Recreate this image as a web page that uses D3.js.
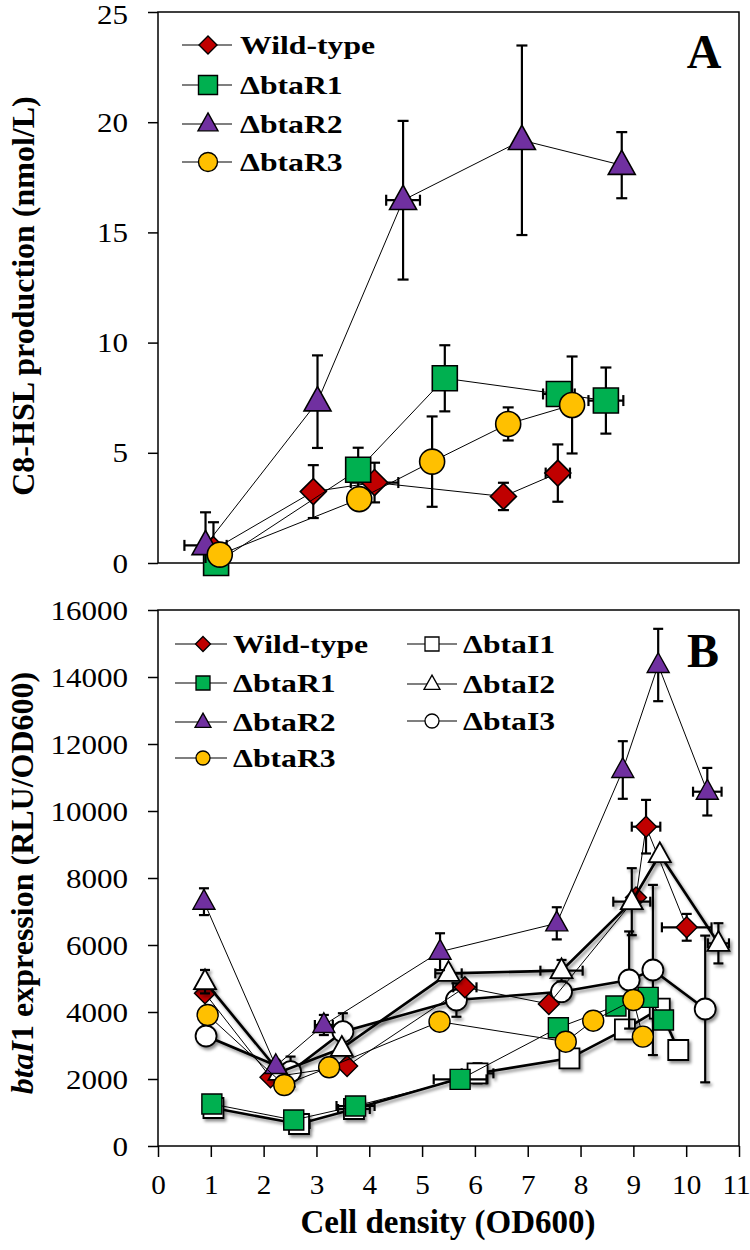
<!DOCTYPE html>
<html><head><meta charset="utf-8">
<script src="https://cdn.jsdelivr.net/npm/d3@7"></script>
<style>
html,body{margin:0;padding:0;background:#fff;}
svg{display:block;font-family:"Liberation Serif","Times New Roman",serif;}
</style></head>
<body>
<svg id="chart" width="750" height="1250"></svg>
<script>
// ---------- DATA ----------
// each point: [x (OD600), y, yError, xError]
const xTicks = [0,1,2,3,4,5,6,7,8,9,10,11];
const aTicks = [0,5,10,15,20,25];
const bTicks = [0,2000,4000,6000,8000,10000,12000,14000,16000];

// Panel A : C8-HSL production (nmol/L)
const aWild = [[1.05,0.6,1.25,0],[2.94,3.24,1.2,0],[4.1,3.65,0.9,0.45],[6.54,3.02,0.62,0],[7.57,4.08,1.3,0.23]];
const aR1   = [[1.1,0.0,0,0],[3.79,4.23,1.0,0],[5.43,8.38,1.5,0],[7.59,7.67,0,0.3],[8.48,7.37,1.5,0.33]];
const aR2   = [[0.9,0.8,1.5,0.4],[3.02,7.32,2.1,0],[4.64,16.46,3.6,0.32],[6.89,19.18,4.3,0],[8.78,18.05,1.5,0]];
const aR3   = [[1.17,0.38,0,0],[3.81,2.9,0,0],[5.19,4.6,2.05,0],[6.63,6.31,0.75,0],[7.84,7.17,2.2,0]];

// Panel B : btaI1 expression (RLU/OD600)
const bWild = [[0.89,4557,0,0],[2.13,2050,0,0],[3.58,2388,0,0],[5.81,4737,0,0.22],[7.4,4239,0,0],[9.05,7420,0,0],[9.24,9532,800,0.27],[10.01,6528,400,0.47]];
const bR1   = [[1.02,1254,0,0],[2.57,776,0,0],[3.74,1194,0,0.36],[5.72,1990,0,0.5],[7.58,3532,0,0],[8.67,4179,0,0],[9.28,4438,0,0],[9.57,3761,0,0]];
const bR2   = [[0.87,7293,400,0],[2.23,2388,150,0],[3.14,3612,300,0.17],[5.34,5800,550,0],[7.55,6647,480,0],[8.8,11224,860,0],[9.47,14358,1080,0],[10.4,10576,710,0.27]];
const bR3   = [[0.94,3910,0,0],[2.39,1821,0,0],[3.24,2349,0,0],[5.33,3711,0,0],[7.72,3114,0,0],[8.24,3741,0,0],[9.0,4358,0,0],[9.18,3264,0,0]];
const bI1   = [[1.05,1134,0,0],[2.67,657,0,0.2],[3.71,1105,0,0.3],[6.05,2169,300,0.3],[7.79,2617,0,0],[8.84,3482,0,0],[9.5,4100,0,0],[9.85,2866,0,0]];
const bI2   = [[0.89,4905,350,0],[2.3,2200,0,0],[3.48,2916,0,0],[5.5,5154,0,0.25],[7.64,5234,320,0.4],[8.97,7293,1000,0.35],[9.5,8700,0,0],[10.61,6050,600,0.2]];
const bI3   = [[0.91,3284,0,0],[2.51,2219,450,0],[3.5,3413,550,0],[5.65,4358,500,0],[7.64,4606,0,0],[8.92,4955,1450,0],[9.37,5254,2540,0],[10.36,4090,2190,0]];

const legendA = ["Wild-type","ΔbtaR1","ΔbtaR2","ΔbtaR3"];
const legendBLeft = ["Wild-type","ΔbtaR1","ΔbtaR2","ΔbtaR3"];
const legendBRight = ["ΔbtaI1","ΔbtaI2","ΔbtaI3"];

// ---------- STYLE ----------
const RED="#C00000", GREEN="#00B050", PURPLE="#7030A0", YELLOW="#FFC000";
const svg = d3.select("#chart");
const defs = svg.append("defs");
defs.append("filter").attr("id","shadow").attr("x","-30%").attr("y","-30%").attr("width","170%").attr("height","170%")
  .append("feDropShadow").attr("dx",2).attr("dy",2.5).attr("stdDeviation",1.6).attr("flood-color","#000").attr("flood-opacity",0.45);

const x = d3.scaleLinear().domain([0,11]).range([158,739]);
const yA = d3.scaleLinear().domain([0,25]).range([563,12]);
const yB = d3.scaleLinear().domain([0,16000]).range([1146,610]);
const SX = 1.15;

function marker(g, shape, size, fill, sw){
  let p;
  if(shape==="diamond"){
    const h=size/2;
    p = `M0,${-h}L${h},0L0,${h}L${-h},0Z`;
  } else if(shape==="triangle"){
    const h=size*0.9;
    p = `M0,${-h*0.62}L${size/2},${h*0.38}L${-size/2},${h*0.38}Z`;
  } else if(shape==="square"){
    p = d3.symbol(d3.symbolSquare, size*size)();
  } else {
    p = d3.symbol(d3.symbolCircle, Math.PI*size*size/4)();
  }
  return g.append("path").attr("d",p).attr("fill",fill).attr("stroke","#000").attr("stroke-width",sw).attr("stroke-linejoin","miter");
}

function drawSeries(g, data, y, opt){
  const grp = g.append("g");
  if(opt.shadow) grp.attr("filter","url(#shadow)");
  const line = d3.line().x(d=>x(d[0])).y(d=>y(d[1]));
  const cap = opt.cap;
  data.forEach(d=>{
    const cx=x(d[0]), cy=y(d[1]);
    if(d[2]>0){
      const y1=y(d[1]+d[2]), y2=y(Math.max(d[1]-d[2], y.domain()[0]));
      grp.append("line").attr("x1",cx).attr("x2",cx).attr("y1",y1).attr("y2",y2).attr("stroke","#000").attr("stroke-width",2.2);
      grp.append("line").attr("x1",cx-cap).attr("x2",cx+cap).attr("y1",y1).attr("y2",y1).attr("stroke","#000").attr("stroke-width",2.2);
      if(d[1]-d[2] > y.domain()[0])
        grp.append("line").attr("x1",cx-cap).attr("x2",cx+cap).attr("y1",y2).attr("y2",y2).attr("stroke","#000").attr("stroke-width",2.2);
    }
    if(d[3]>0){
      const x1=x(d[0]-d[3]), x2=x(d[0]+d[3]);
      grp.append("line").attr("x1",x1).attr("x2",x2).attr("y1",cy).attr("y2",cy).attr("stroke","#000").attr("stroke-width",2.2);
      [x1,x2].forEach(xx=>grp.append("line").attr("x1",xx).attr("x2",xx).attr("y1",cy-cap).attr("y2",cy+cap).attr("stroke","#000").attr("stroke-width",2.2));
    }
  });
  grp.append("path").attr("d",line(data)).attr("fill","none").attr("stroke","#000").attr("stroke-width",opt.lw);
  data.forEach(d=>{
    marker(grp, opt.shape, opt.size, opt.fill, opt.sw).attr("transform",`translate(${x(d[0])},${y(d[1])})`);
  });
}

function sText(g, tx, ty, str, size, weight, anchor, sx){
  return g.append("g").attr("transform",`translate(${tx},${ty}) scale(${sx},1)`)
    .append("text").attr("x",0).attr("y",0).attr("font-size",size).attr("font-weight",weight)
    .attr("text-anchor",anchor).attr("fill","#000").text(str);
}

// ---------- PANEL A ----------
const gA = svg.append("g");
const axA = gA.append("g").attr("transform","translate(158,0)").call(d3.axisLeft(yA).tickValues(aTicks).tickSize(10).tickPadding(0).tickSizeOuter(0));
axA.select(".domain").remove();
axA.selectAll(".tick line").attr("stroke","#000").attr("stroke-width",1.5);
axA.selectAll(".tick text").attr("font-size",27).attr("font-family","Liberation Serif").attr("fill","#000")
  .attr("transform",`scale(${SX},1)`).attr("x",-30/SX).attr("dy","0.34em");
axA.selectAll(".tick").filter(d=>d===25).select("text").attr("dy","0.42em");
gA.append("rect").attr("x",158).attr("y",12).attr("width",739-158).attr("height",563-12).attr("fill","none").attr("stroke","#000").attr("stroke-width",1.5);

drawSeries(gA, aWild, yA, {shape:"diamond", size:26, fill:RED, sw:1.6, lw:1, cap:5.5});
drawSeries(gA, aR1, yA, {shape:"square", size:25, fill:GREEN, sw:1.6, lw:1, cap:5.5});
drawSeries(gA, aR2, yA, {shape:"triangle", size:27, fill:PURPLE, sw:1.6, lw:1, cap:5.5});
drawSeries(gA, aR3, yA, {shape:"circle", size:25, fill:YELLOW, sw:1.6, lw:1, cap:5.5});

const legShapes = ["diamond","square","triangle","circle"];
const legFills = [RED,GREEN,PURPLE,YELLOW];
const legAY = [45,85,124,162];
legendA.forEach((name,i)=>{
  const yy = legAY[i];
  gA.append("line").attr("x1",182).attr("x2",232).attr("y1",yy).attr("y2",yy).attr("stroke","#000").attr("stroke-width",1.2);
  marker(gA, legShapes[i], i===0?18:(i===2?20:19), legFills[i], 1.4).attr("transform",`translate(208,${yy})`);
  sText(gA, 240, yy+9, name, 26, "bold", "start", 1.22);
});
sText(gA, 704, 68, "A", 48, "bold", "middle", 1);

gA.append("text").attr("transform","translate(34,296) rotate(-90)").attr("text-anchor","middle")
  .attr("font-size",32).attr("font-weight","bold").text("C8-HSL production (nmol/L)");

// ---------- PANEL B ----------
const gB = svg.append("g");
const axB = gB.append("g").attr("transform","translate(158,0)").call(d3.axisLeft(yB).tickValues(bTicks).tickSize(10).tickPadding(0).tickSizeOuter(0).tickFormat(d3.format("d")));
axB.select(".domain").remove();
axB.selectAll(".tick line").attr("stroke","#000").attr("stroke-width",1.5);
axB.selectAll(".tick text").attr("font-size",27).attr("font-family","Liberation Serif").attr("fill","#000")
  .attr("transform",`scale(${SX},1)`).attr("x",-30/SX).attr("dy","0.34em");
const axX = gB.append("g").attr("transform","translate(0,1146)").call(d3.axisBottom(x).tickValues(xTicks).tickSize(11).tickPadding(18).tickSizeOuter(0));
axX.select(".domain").remove();
axX.selectAll(".tick line").attr("stroke","#000").attr("stroke-width",1.5);
axX.selectAll(".tick text").attr("font-size",27).attr("font-family","Liberation Serif").attr("fill","#000")
  .attr("transform",`scale(1.08,1)`);
axX.selectAll(".tick").filter(d=>d===11).select("text").attr("text-anchor","end").attr("x",(750-739)/1.08);
gB.append("rect").attr("x",158).attr("y",610).attr("width",739-158).attr("height",1146-610).attr("fill","none").attr("stroke","#000").attr("stroke-width",1.5);

// drawing order follows the reference's stacking
drawSeries(gB, bI1, yB, {shape:"square", size:20, fill:"#fff", sw:1.8, lw:2.6, cap:5, shadow:true});
drawSeries(gB, bI3, yB, {shape:"circle", size:21, fill:"#fff", sw:1.8, lw:2.6, cap:5, shadow:true});
drawSeries(gB, bWild, yB, {shape:"diamond", size:21, fill:RED, sw:1.4, lw:1, cap:5});
drawSeries(gB, bI2, yB, {shape:"triangle", size:22, fill:"#fff", sw:1.8, lw:2.6, cap:5, shadow:true});
drawSeries(gB, bR1, yB, {shape:"square", size:20, fill:GREEN, sw:1.4, lw:1, cap:5});
drawSeries(gB, bR2, yB, {shape:"triangle", size:22, fill:PURPLE, sw:1.4, lw:1, cap:5});
drawSeries(gB, bR3, yB, {shape:"circle", size:21, fill:YELLOW, sw:1.4, lw:1, cap:5});

const legBY = [644,683,722,758];
legendBLeft.forEach((name,i)=>{
  const yy = legBY[i];
  gB.append("line").attr("x1",175).attr("x2",227).attr("y1",yy).attr("y2",yy).attr("stroke","#000").attr("stroke-width",1.2);
  marker(gB, legShapes[i], i===0?15:(i===2?16:14), legFills[i], 1.3).attr("transform",`translate(203,${yy})`);
  sText(gB, 233, yy+9, name, 26, "bold", "start", 1.22);
});
const legBRShapes = ["square","triangle","circle"];
const legBRY = [644,684,721];
legendBRight.forEach((name,i)=>{
  const yy = legBRY[i];
  gB.append("line").attr("x1",407).attr("x2",457).attr("y1",yy).attr("y2",yy).attr("stroke","#000").attr("stroke-width",1.2);
  marker(gB, legBRShapes[i], i===1?16:14, "#fff", 1.3).attr("transform",`translate(432,${yy})`);
  sText(gB, 463, yy+9, name, 26, "bold", "start", 1.22);
});
sText(gB, 703, 667, "B", 48, "bold", "middle", 1);

const tB = gB.append("text").attr("transform","translate(33,883) rotate(-90)").attr("text-anchor","middle")
  .attr("font-size",32).attr("font-weight","bold");
tB.append("tspan").attr("font-style","italic").text("btaI");
tB.append("tspan").text("1 expression (RLU/OD600)");

gB.append("text").attr("x",448).attr("y",1233).attr("text-anchor","middle").attr("font-size",33).attr("font-weight","bold")
  .text("Cell density (OD600)");
</script>
</body></html>
